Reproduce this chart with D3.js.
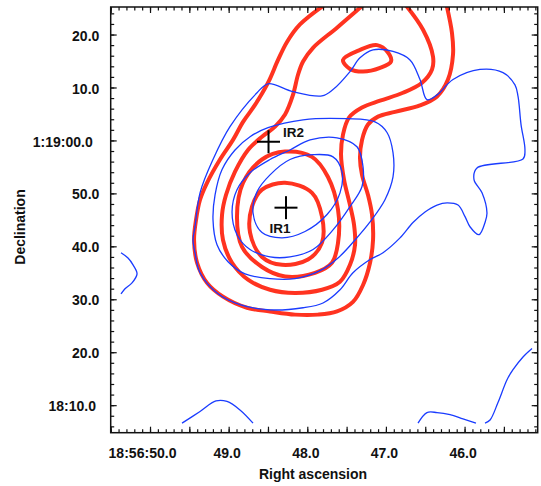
<!DOCTYPE html>
<html><head><meta charset="utf-8">
<script src="https://cdn.jsdelivr.net/npm/d3@7"></script>
<style>body{margin:0;background:#fff}svg text{font-family:"Liberation Sans",Arial,Helvetica,sans-serif;font-weight:bold;fill:#111}</style>
</head><body><svg id="c" width="541" height="486"></svg>
<script>
// Axis values: RA in seconds of 18:56:xx, Dec in arcsec relative to +1:19:00
const raDomain = [50.5, 45.07];
const decDomain = [25.2, -55.2];
const raTicks = [50, 49, 48, 47, 46];
const raTickLabels = ["18:56:50.0", "49.0", "48.0", "47.0", "46.0"];
const decTicks = [20, 10, 0, -10, -20, -30, -40, -50];
const decTickLabels = ["20.0", "10.0", "1:19:00.0", "50.0", "40.0", "30.0", "20.0", "18:10.0"];

// Red contours [RA s, Dec arcsec]
const red1 = [[47.762,25.8],[48.093,21.9],[48.258,18.6],[48.372,15.2],[48.499,10.9],[48.665,6.7],[48.817,3.5],[48.945,0.1],[49.110,-3.6],[49.275,-8.0],[49.364,-11.2],[49.415,-15.0],[49.440,-18.8],[49.402,-23.1],[49.275,-26.9],[49.072,-29.5],[48.767,-31.6],[48.474,-32.3],[48.156,-32.9],[47.864,-32.9],[47.622,-32.3],[47.419,-30.5],[47.291,-27.3],[47.202,-23.1],[47.164,-18.8],[47.177,-14.0],[47.228,-10.3],[47.304,-6.5],[47.330,-3.3],[47.304,0.1],[47.228,3.0],[47.101,4.5],[46.885,5.4],[46.567,6.6],[46.350,8.3],[46.211,11.5],[46.147,16.2],[46.160,20.3],[46.236,26.0]];
const red2 = [[47.241,26.2],[47.622,21.3],[47.927,17.5],[48.054,14.9],[48.118,12.4],[48.182,8.6],[48.283,4.9],[48.410,2.6],[48.576,0.7],[48.754,-1.8],[48.919,-5.9],[49.034,-10.3],[49.084,-14.0],[49.072,-18.8],[48.957,-23.1],[48.754,-26.3],[48.474,-28.2],[48.156,-28.8],[47.813,-28.2],[47.584,-26.7],[47.457,-23.5],[47.393,-19.7],[47.406,-15.9],[47.457,-12.2],[47.533,-7.4],[47.571,-2.7],[47.546,1.1],[47.470,4.3],[47.304,6.2],[47.075,7.5],[46.783,9.0],[46.541,10.9],[46.414,13.4],[46.401,15.8],[46.528,20.9],[46.783,26.2]];
const red3 = [[48.283,-2.1],[47.940,-3.1],[47.737,-6.9],[47.609,-13.1],[47.609,-19.3],[47.686,-23.1],[47.902,-25.0],[48.283,-25.7],[48.576,-23.9],[48.830,-20.1],[48.894,-14.4],[48.817,-8.0],[48.576,-3.6]];
const red4 = [[48.283,-8.0],[47.940,-9.9],[47.813,-14.4],[47.813,-19.3],[47.991,-22.5],[48.321,-23.5],[48.576,-22.0],[48.728,-17.4],[48.703,-12.5],[48.576,-9.3]];
const red5 = [[47.546,15.2],[47.457,13.5],[47.291,13.0],[47.075,13.7],[46.935,14.9],[46.974,16.6],[47.113,18.0],[47.330,17.1]];

// Blue contours
const blue1 = [[48.499,10.7],[48.182,9.2],[47.813,8.4],[47.673,9.6],[47.457,13.0],[47.330,15.6],[47.164,17.1],[46.910,16.8],[46.694,15.2],[46.567,11.5],[46.478,7.7],[46.350,8.6],[46.147,11.5],[45.804,13.4],[45.511,12.8],[45.359,10.5],[45.320,8.3],[45.282,3.0],[45.232,-1.8],[45.257,-3.5],[45.842,-5.2],[45.880,-7.4],[45.778,-9.9],[45.715,-13.7],[45.740,-15.5],[45.817,-17.8],[45.931,-16.3],[45.994,-14.4],[46.083,-12.2],[46.223,-11.8],[46.350,-12.2],[46.503,-13.5],[46.656,-15.5],[46.821,-18.4],[47.037,-21.2],[47.202,-22.5],[47.419,-25.0],[47.584,-28.2],[47.800,-30.7],[48.054,-31.6],[48.474,-32.0],[48.856,-31.0],[49.148,-28.8],[49.364,-25.0],[49.428,-21.2],[49.453,-18.8],[49.428,-16.3],[49.364,-9.9],[49.199,-3.6],[48.983,2.6],[48.639,9.0]];
const blue2 = [[48.499,2.4],[48.054,3.9],[47.495,4.1],[47.139,3.5],[46.986,1.5],[46.910,-2.3],[46.910,-6.9],[47.012,-11.2],[47.202,-15.4],[47.393,-18.8],[47.609,-22.2],[47.838,-24.6],[48.156,-26.1],[48.474,-26.1],[48.792,-25.2],[49.008,-22.9],[49.148,-19.7],[49.199,-15.0],[49.173,-10.3],[49.084,-5.5],[48.919,-1.8],[48.728,0.7]];
const blue3 = [[48.474,-3.6],[48.220,-1.8],[47.965,0.1],[47.622,0.5],[47.368,-1.2],[47.291,-5.0],[47.304,-8.7],[47.457,-12.5],[47.673,-16.9],[47.927,-20.6],[48.220,-22.0],[48.474,-22.0],[48.728,-20.6],[48.894,-17.8],[48.957,-13.5],[48.894,-9.3],[48.728,-6.1]];
const blue4 = [[48.690,-13.7],[48.639,-9.7],[48.474,-6.5],[48.220,-3.6],[47.927,-2.7],[47.673,-3.1],[47.559,-5.9],[47.584,-9.9],[47.749,-14.0],[48.029,-17.2],[48.321,-18.4],[48.576,-17.4]];
const blueLeft = [[50.369,-21.2],[50.280,-22.2],[50.216,-23.5],[50.165,-25.2],[50.229,-26.9],[50.318,-28.0],[50.369,-29.0]];
const blueBottom1 = [[49.593,-53.4],[49.364,-51.2],[49.161,-49.2],[49.021,-49.3],[48.856,-50.9],[48.690,-53.4]];
const blueBottom2 = [[46.592,-53.4],[46.478,-51.4],[46.350,-51.4],[46.185,-51.8],[46.020,-52.6],[45.855,-53.4]];
const blueBottom3 = [[45.740,-53.4],[45.676,-52.8],[45.575,-49.5],[45.460,-45.2],[45.384,-43.3],[45.257,-40.9],[45.142,-39.3]];

// Sources
const sourceNames = ["IR1", "IR2"];
const sourceRA = [48.271, 48.493];
const sourceDec = [-12.7, -0.25];

const svg = d3.select("#c");
const L = 110.7, R = 537.7, T = 7, B = 432.7;
const x = d3.scaleLinear().domain(raDomain).range([L, R]);
const y = d3.scaleLinear().domain(decDomain).range([T, B]);

svg.append("defs").append("clipPath").attr("id", "clip")
  .append("rect").attr("x", L).attr("y", T).attr("width", R - L).attr("height", B - T);

const g = svg.append("g").attr("clip-path", "url(#clip)");
const lineOpen = d3.line().x(d => x(d[0])).y(d => y(d[1])).curve(d3.curveCatmullRom.alpha(0.5));
const lineClosed = d3.line().x(d => x(d[0])).y(d => y(d[1])).curve(d3.curveCatmullRomClosed.alpha(0.5));

const RED = "#ff3320", BLUE = "#1a3cff";
const blues = [
  {d: blue1, closed: true}, {d: blue2, closed: true}, {d: blue3, closed: true}, {d: blue4, closed: true},
  {d: blueLeft, closed: false}, {d: blueBottom1, closed: false}, {d: blueBottom2, closed: false}, {d: blueBottom3, closed: false}
];
const reds = [
  {d: red1, closed: false}, {d: red2, closed: false}, {d: red3, closed: true}, {d: red4, closed: true}, {d: red5, closed: true}
];
g.selectAll("path.red").data(reds).join("path").attr("class", "red")
  .attr("d", c => (c.closed ? lineClosed : lineOpen)(c.d))
  .attr("fill", "none").attr("stroke", RED).attr("stroke-width", 4).attr("stroke-linejoin", "round");
g.selectAll("path.blue").data(blues).join("path").attr("class", "blue")
  .attr("d", c => (c.closed ? lineClosed : lineOpen)(c.d))
  .attr("fill", "none").attr("stroke", BLUE).attr("stroke-width", 1.3).attr("stroke-linejoin", "round");

// Source crosses
const src = svg.append("g");
sourceNames.forEach((n, i) => {
  const cx = x(sourceRA[i]), cy = y(sourceDec[i]);
  src.append("line").attr("x1", cx - 11.5).attr("x2", cx + 11.5).attr("y1", cy).attr("y2", cy).attr("stroke", "#000").attr("stroke-width", 2);
  src.append("line").attr("x1", cx).attr("x2", cx).attr("y1", cy - 11.5).attr("y2", cy + 11.5).attr("stroke", "#000").attr("stroke-width", 2);
  const t = src.append("text").text(n).style("font-size", "13.5px");
  if (n === "IR1") t.attr("x", cx - 6).attr("y", cy + 25).attr("text-anchor", "middle");
  else t.attr("x", cx + 14.5).attr("y", cy - 5);
});

// Ticks
const raMajor = d3.range(50.5, 45.0, -0.5);
const raMinor = d3.range(505, 450, -1).map(v => v / 10);
const decMajor = d3.range(20, -60, -10);
const decMinor = d3.range(24, -56, -2);

function addAxis(gen, tr) { const a = svg.append("g").attr("transform", tr).call(gen); a.select(".domain").remove(); a.selectAll("line").attr("stroke", "#111").attr("stroke-width", 1.2); return a; }
// minor ticks
addAxis(d3.axisBottom(x).tickValues(raMinor).tickSizeInner(-3.5).tickSizeOuter(0).tickFormat(""), `translate(0,${B})`);
addAxis(d3.axisTop(x).tickValues(raMinor).tickSizeInner(-3.5).tickSizeOuter(0).tickFormat(""), `translate(0,${T})`);
addAxis(d3.axisLeft(y).tickValues(decMinor).tickSizeInner(-3.5).tickSizeOuter(0).tickFormat(""), `translate(${L},0)`);
addAxis(d3.axisRight(y).tickValues(decMinor).tickSizeInner(-3.5).tickSizeOuter(0).tickFormat(""), `translate(${R},0)`);
// major ticks
addAxis(d3.axisTop(x).tickValues(raMajor).tickSizeInner(-6).tickSizeOuter(0).tickFormat(""), `translate(0,${T})`);
addAxis(d3.axisRight(y).tickValues(decMajor).tickSizeInner(-6).tickSizeOuter(0).tickFormat(""), `translate(${R},0)`);
addAxis(d3.axisBottom(x).tickValues(raMajor).tickSizeInner(-6).tickSizeOuter(0).tickFormat(""), `translate(0,${B})`);
addAxis(d3.axisLeft(y).tickValues(decMajor).tickSizeInner(-6).tickSizeOuter(0).tickFormat(""), `translate(${L},0)`);
// labels
const xl = addAxis(d3.axisBottom(x).tickValues(raTicks).tickSize(0).tickPadding(15)
  .tickFormat((d, i) => raTickLabels[i]), `translate(0,${B})`);
xl.selectAll("text").style("font-size", "14px").attr("fill", "#111").attr("dx", (d, i) => i === 0 ? -8 : -2)
  .each(function(d, i) { if (i === 0) d3.select(this).attr("textLength", 68).attr("lengthAdjust", "spacingAndGlyphs"); });
const yl = addAxis(d3.axisLeft(y).tickValues(decTicks).tickSize(0).tickPadding(11.4)
  .tickFormat((d, i) => decTickLabels[i]), `translate(${L},0)`);
yl.selectAll("text").style("font-size", "14px").attr("fill", "#111").attr("dy", "0.4em")
  .attr("dx", (d, i) => decTickLabels[i].length > 7 ? -6.6 : (decTickLabels[i].length > 5 ? -3.3 : 0));

svg.append("rect").attr("x", L).attr("y", T).attr("width", R - L).attr("height", B - T)
  .attr("fill", "none").attr("stroke", "#111").attr("stroke-width", 1.5);

svg.append("text").attr("x", 313).attr("y", 479).attr("text-anchor", "middle").style("font-size", "14px").text("Right ascension");
svg.append("text").attr("transform", "translate(25,227) rotate(-90)").attr("text-anchor", "middle").style("font-size", "14px").text("Declination");
</script></body></html>
